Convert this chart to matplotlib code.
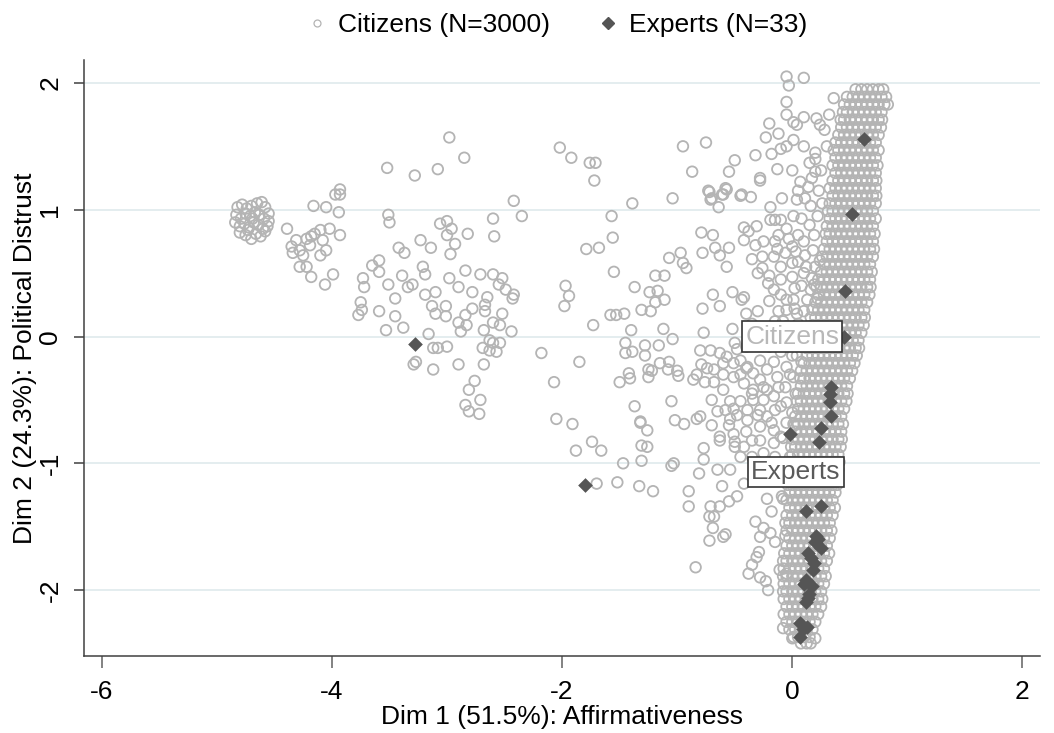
import numpy as np
import matplotlib
matplotlib.use('Agg')
import matplotlib.pyplot as plt
from matplotlib.lines import Line2D

plt.rcParams['font.family'] = ['Liberation Sans', 'DejaVu Sans']
plt.rcParams['font.size'] = 19
plt.rcParams['axes.unicode_minus'] = False

# ---------------- dados ----------------
# citizens: nuvem da esquerda (x < -3.5)
far_x = [-4.82, -4.78, -4.74, -4.70, -4.65, -4.61, -4.58, -4.55, -4.83, -4.79, -4.75, -4.71, -4.67,
         -4.63, -4.59, -4.55, -4.84, -4.80, -4.76, -4.72, -4.68, -4.64, -4.60, -4.56, -4.80, -4.75,
         -4.70, -4.66, -4.62, -4.58, -4.73, -4.69,
         -4.39, -4.16, -4.05, -3.97, -3.93, -3.94, -4.02, -3.93, -4.31, -4.35, -4.34, -4.28, -4.25,
         -4.22, -4.18, -4.15, -4.10, -4.08, -4.05, -4.10, -4.19, -4.28, -4.22, -4.18, -4.06, -3.99,
         -3.51, -3.50, -3.73, -3.72, -3.65, -3.59, -3.59, -3.75, -3.74, -3.77, -3.59, -3.52, -3.93]
far_y = [1.02, 1.04, 1.01, 1.03, 1.05, 1.06, 1.02, 0.97, 0.96, 0.93, 0.97, 0.95, 0.98,
         0.96, 0.93, 0.91, 0.90, 0.87, 0.89, 0.86, 0.90, 0.88, 0.85, 0.87, 0.82, 0.80,
         0.77, 0.81, 0.79, 0.83, 0.84, 0.93,
         0.85, 1.03, 1.02, 1.12, 1.12, 0.98, 0.85, 0.80, 0.76, 0.71, 0.66, 0.68, 0.64,
         0.77, 0.79, 0.81, 0.84, 0.76, 0.68, 0.64, 0.72, 0.55, 0.55, 0.47, 0.41, 0.49,
         0.96, 0.90, 0.46, 0.39, 0.56, 0.60, 0.51, 0.27, 0.21, 0.17, 0.20, 1.33, 1.16]

# citizens: -3.5 < x < -2
midl_x = [-3.51, -3.45, -3.45, -3.53, -3.38, -3.42, -3.37, -3.39, -3.34, -3.30, -3.23, -3.14, -3.21,
          -3.19, -3.06, -3.00, -2.96, -3.00, -2.93, -2.97, -2.82, -2.60, -2.59, -2.42, -2.35, -3.19,
          -3.10, -3.13, -3.10, -3.01, -3.01, -2.98, -2.90, -2.84, -2.78, -2.71, -2.78, -2.84, -2.90,
          -2.88, -2.83, -2.60, -2.52, -2.55, -2.49, -2.42, -2.43, -2.65, -2.67, -2.67, -2.60, -2.54,
          -2.52, -2.44, -2.68, -2.63, -2.60, -2.54, -2.69, -2.63, -2.57, -2.18, -3.16, -3.12, -3.08,
          -3.00, -3.27, -3.29, -3.12, -2.90, -2.68, -2.76, -2.81, -2.71, -2.84, -2.81, -2.72, -2.98,
          -2.85, -3.28, -3.08, -2.07, -2.05]
midl_y = [0.41, 0.30, 0.16, 0.05, 0.07, 0.70, 0.66, 0.48, 0.39, 0.41, 0.76, 0.70, 0.55,
          0.49, 0.89, 0.91, 0.85, 0.80, 0.73, 0.65, 0.81, 0.93, 0.79, 1.07, 0.95, 0.33,
          0.35, 0.24, 0.18, 0.24, 0.16, 0.46, 0.39, 0.52, 0.35, 0.49, 0.22, 0.17, 0.11,
          0.04, 0.09, 0.49, 0.46, 0.41, 0.37, 0.33, 0.30, 0.31, 0.25, 0.20, 0.11, 0.09,
          0.18, 0.04, 0.05, -0.03, -0.05, -0.05, -0.09, -0.11, -0.12, -0.13, 0.02, -0.09, -0.09,
          -0.08, -0.20, -0.22, -0.26, -0.22, -0.22, -0.35, -0.42, -0.50, -0.54, -0.59, -0.61, 1.57,
          1.41, 1.27, 1.32, -0.36, -0.65]

# citizens: -2 < x < -0.9
mid_x = [-2.02, -1.92, -1.76, -1.71, -1.72, -1.39, -1.57, -1.56, -1.79, -1.68, -1.55, -1.97, -1.94,
         -1.98, -1.73, -1.85, -1.91, -1.37, -1.19, -1.11, -1.24, -1.17, -1.19, -1.11, -1.31, -1.23,
         -1.58, -1.53, -1.46, -1.40, -1.12, -1.04, -1.16, -1.45, -1.39, -1.28, -1.50, -1.41, -1.25,
         -1.22, -1.07, -0.99, -1.05, -1.37, -1.32, -1.26, -1.02, -0.94, -0.97, -0.95, -0.92, -1.07,
         -0.95, -1.04, -1.88, -1.74, -1.66, -1.47, -1.31, -1.05, -1.03, -1.31, -1.26, -1.32, -1.42,
         -1.45, -1.28, -1.15, -1.25, -1.08, -1.00, -1.70, -1.52, -1.33, -1.21, -0.90, -0.90, -0.84]
mid_y = [1.49, 1.41, 1.37, 1.37, 1.23, 1.05, 0.95, 0.78, 0.69, 0.70, 0.51, 0.40, 0.32,
         0.24, 0.09, -0.20, -0.69, 0.39, 0.48, 0.48, 0.35, 0.36, 0.27, 0.29, 0.21, 0.20,
         0.17, 0.17, 0.18, 0.05, 0.06, -0.02, -0.07, -0.05, -0.12, -0.07, -0.36, -0.33, -0.32,
         -0.27, -0.20, -0.31, -0.51, -0.55, -0.67, -0.74, -0.66, -0.69, 0.66, 0.58, 0.54, 0.62,
         1.50, 1.09, -0.90, -0.83, -0.90, -1.00, -0.98, -1.02, -1.00, -0.86, -0.87, -0.68, -0.29,
         -0.13, -0.15, -0.21, -0.26, -0.26, -0.27, -1.16, -1.15, -1.18, -1.22, -1.22, -1.34, -1.82]

# citizens: -0.9 < x < 0.3, fora da faixa densa
near_x = [-0.75, -0.87, -0.55, -0.50, -0.32, -0.20, -0.23, -0.12, -0.05, 0.01, 0.04, 0.10, -0.05,
          -0.18, -0.10, -0.05, 0.10, 0.01, 0.21, 0.24, 0.28, -0.13, 0.00, 0.15, 0.20, 0.25,
          -0.28, -0.28, 0.07, 0.17, 0.23, -0.73, -0.71, -0.60, -0.57, -0.45, -0.36, -0.79, -0.69,
          -0.78, -0.67, -0.63, -0.55, -0.57, -0.69, -0.63, -0.52, -0.42, -0.44, -0.78, -0.77, -0.52,
          -0.42, -0.38, -0.31, -0.42, -0.32, -0.26, -0.16, -0.13, -0.06, 0.03, 0.11, 0.00, 0.05,
          -0.35, -0.26, -0.10, -0.19, -0.15, -0.10, 0.01, 0.08, -0.12, -0.03, 0.00, 0.10, 0.19,
          -0.19, -0.09, 0.04, 0.11, 0.16, -0.21, -0.16, -0.05, 0.01, -0.05, 0.04, 0.13, 0.17,
          0.19, 0.16, -0.05, 0.10, -0.03, 0.20, -0.44, -0.58, -0.61, -0.72, -0.70, -0.64,
          -0.80, -0.71, -0.79, -0.74, -0.68, -0.76, -0.68, -0.63, -0.60, -0.83, -0.86, -0.83, -0.80,
          -0.70, -0.77, -0.77, -0.63, -0.51, -0.50, -0.50, -0.70, -0.65, -0.54, -0.60, -0.54, -0.45,
          -0.51, -0.39, -0.34, -0.28, -0.39, -0.28, -0.57, -0.51, -0.45, -0.39, -0.34, -0.28, -0.51,
          -0.42, -0.34, -0.22, -0.16, -0.22, -0.13, -0.28, -0.16, -0.05, 0.01, -0.22, -0.16, -0.28,
          -0.16, -0.10, -0.05, -0.81, -0.65, -0.54, -0.61, -0.71, -0.63, -0.55, -0.48, -0.72, -0.68,
          -0.69, -0.72, -0.60, -0.58, -0.63, -0.42, -0.42, -0.31, -0.22, -0.08, -0.18, -0.09, -0.32,
          -0.25, -0.28, -0.19, -0.15, -0.06, -0.29, -0.31, -0.35, -0.38, -0.28, -0.23, -0.21, -0.11,
          -0.05, -0.35, -0.25, -0.15, -0.05, 0.05, -0.30, -0.20, -0.10, 0.00, 0.06, -0.40, -0.48,
          -0.12, -0.30, -0.40, 0.08, -0.06, 0.03, -0.10, 0.00, -0.02, -0.12, -0.20, -0.08, -0.15,
          -0.25, -0.35, 0.00, 0.20, 0.16, -0.08]
near_y = [1.53, 1.30, 1.30, 1.39, 1.43, 1.68, 1.57, 1.60, 1.75, 1.69, 1.67, 1.73, 1.85,
          1.44, 1.48, 1.50, 1.50, 1.55, 1.72, 1.67, 1.63, 1.32, 1.31, 1.37, 1.30, 1.31,
          1.25, 1.23, 1.22, 1.25, 1.15, 1.15, 1.08, 1.12, 1.16, 1.11, 1.10, 0.82, 0.80,
          0.66, 0.70, 0.64, 0.70, 0.55, 0.33, 0.24, 0.35, 0.31, 0.29, 0.22, 0.03, 0.06,
          0.86, 0.83, 0.87, 0.76, 0.72, 0.63, 0.63, 0.69, 0.66, 0.67, 0.64, 0.58, 0.59,
          0.61, 0.54, 0.55, 0.92, 0.92, 0.92, 0.95, 0.93, 0.80, 0.77, 0.71, 0.75, 0.80,
          1.02, 1.09, 1.08, 1.09, 1.03, 0.42, 0.37, 0.29, 0.29, 0.21, 0.18, 0.29, 0.46,
          0.41, 0.37, 2.05, 2.04, 1.98, 1.45, 1.12, 1.17, 1.12, 1.14, 1.09, 1.02,
          -0.11, -0.11, -0.22, -0.25, -0.26, -0.36, -0.36, -0.13, -0.21, -0.30, -0.34, -0.65, -0.63,
          -0.70, -0.88, -0.97, -0.82, -0.77, -0.83, -0.87, -0.50, -0.59, -0.65, -0.42, -0.51, -0.51,
          -0.57, -0.58, -0.50, -0.58, -0.66, -0.71, -0.16, -0.21, -0.19, -0.24, -0.29, -0.34, -0.32,
          -0.37, -0.42, -0.42, -0.47, -0.26, -0.32, -0.19, -0.20, -0.24, -0.32, -0.63, -0.74, -0.82,
          -0.84, -0.79, -0.68, -1.08, -1.05, -1.05, -1.18, -1.34, -1.34, -1.30, -1.26, -1.42, -1.42,
          -1.51, -1.61, -1.58, -1.56, -0.79, -0.87, -1.16, -1.13, -1.28, -1.28, -1.38, -1.26, -1.46,
          -1.51, -1.58, -1.55, -1.62, -1.57, -1.70, -1.74, -1.80, -1.87, -1.90, -1.93, -2.00, -1.84,
          -1.87, 0.10, 0.05, 0.12, 0.08, 0.10, -0.05, -0.08, -0.12, -0.15, -0.05, -0.08, -0.10,
          0.20, 0.20, 0.18, -0.20, -0.40, -0.45, -0.55, -0.60, -0.95, -1.00, -1.05, -1.12, -0.95,
          -0.92, -0.95, -2.38, -2.38, -2.42, -2.30]

# citizens: zona densa logo a esquerda da faixa
edge_x = [-0.30, -0.20, -0.10, 0.00, 0.10, 0.20, -0.25, -0.05, 0.15, 0.22, 0.05, 0.18, 0.12,
          -0.15, 0.24, 0.02, -0.10, 0.08, 0.22, 0.10, -0.08, 0.02, -0.20, 0.14, 0.26, 0.05,
          0.20, 0.30, 0.32, 0.36, -0.45, -0.35, -0.25, -0.15, -0.05, 0.02, -0.08, -0.18, -0.30,
          -0.40, -0.55, -0.45, -0.35, -0.25, -0.12, -0.02, 0.04, -0.60, -0.50, -0.40, -0.58, -0.48]
edge_y = [0.50, 0.48, 0.45, 0.47, 0.50, 0.55, 0.75, 0.85, 0.88, 0.95, 0.80, 0.68, 0.55,
          0.75, 0.60, 0.38, 0.33, 0.40, 0.30, 0.20, 0.12, 0.22, 0.28, 1.18, 1.05, 1.15,
          1.40, 1.50, 1.75, 1.88, -0.30, -0.45, -0.50, -0.58, -0.52, -0.70, -0.80, -0.68, -0.62,
          -0.75, -0.70, -0.95, -0.82, -0.40, -0.40, -0.30, -0.15, -0.30, -0.05, -0.25, -0.58, -0.62]

# citizens: faixa densa, lida linha a linha
band_y = [1.95, 1.89, 1.83, 1.77, 1.71, 1.65, 1.59, 1.53, 1.47, 1.41, 1.35, 1.29, 1.23, 1.17,
          1.11, 1.05, 0.99, 0.93, 0.87, 0.81, 0.75, 0.69, 0.63, 0.57, 0.51, 0.45, 0.39, 0.33,
          0.27, 0.21, 0.15, 0.09, 0.03, -0.03, -0.09, -0.15, -0.21, -0.27, -0.33, -0.39, -0.45,
          -0.51, -0.57, -0.63, -0.69, -0.75, -0.81, -0.87, -0.93, -0.99, -1.05, -1.11, -1.17,
          -1.23, -1.29, -1.35, -1.41, -1.47, -1.53, -1.59, -1.65, -1.71, -1.77, -1.83, -1.89,
          -1.95, -2.01, -2.07, -2.13, -2.19, -2.25, -2.31, -2.37, -2.42]
band_x = [
    [0.55, 0.60, 0.65, 0.70, 0.75, 0.79],
    [0.475, 0.525, 0.575, 0.625, 0.675, 0.725, 0.775, 0.815],
    [0.45, 0.50, 0.55, 0.60, 0.65, 0.70, 0.75, 0.80, 0.83],
    [0.44, 0.475, 0.525, 0.575, 0.625, 0.675, 0.725, 0.775],
    [0.42, 0.45, 0.50, 0.55, 0.60, 0.65, 0.70, 0.75, 0.78],
    [0.425, 0.475, 0.525, 0.575, 0.625, 0.675, 0.725, 0.77],
    [0.40, 0.45, 0.50, 0.55, 0.60, 0.65, 0.70, 0.75],
    [0.375, 0.425, 0.475, 0.525, 0.575, 0.625, 0.675, 0.725],
    [0.36, 0.40, 0.45, 0.50, 0.55, 0.60, 0.65, 0.70, 0.75],
    [0.375, 0.425, 0.475, 0.525, 0.575, 0.625, 0.675, 0.725],
    [0.35, 0.40, 0.45, 0.50, 0.55, 0.60, 0.65, 0.70, 0.74],
    [0.375, 0.425, 0.475, 0.525, 0.575, 0.625, 0.675, 0.725],
    [0.35, 0.40, 0.45, 0.50, 0.55, 0.60, 0.65, 0.70, 0.73],
    [0.325, 0.375, 0.425, 0.475, 0.525, 0.575, 0.625, 0.675, 0.725],
    [0.35, 0.40, 0.45, 0.50, 0.55, 0.60, 0.65, 0.70, 0.73],
    [0.325, 0.375, 0.425, 0.475, 0.525, 0.575, 0.625, 0.675, 0.725],
    [0.31, 0.35, 0.40, 0.45, 0.50, 0.55, 0.60, 0.65, 0.70],
    [0.325, 0.375, 0.425, 0.475, 0.525, 0.575, 0.625, 0.675, 0.725],
    [0.30, 0.35, 0.40, 0.45, 0.50, 0.55, 0.60, 0.65, 0.70],
    [0.29, 0.325, 0.375, 0.425, 0.475, 0.525, 0.575, 0.625, 0.675, 0.715],
    [0.30, 0.35, 0.40, 0.45, 0.50, 0.55, 0.60, 0.65, 0.70],
    [0.275, 0.325, 0.375, 0.425, 0.475, 0.525, 0.575, 0.625, 0.675, 0.71],
    [0.26, 0.30, 0.35, 0.40, 0.45, 0.50, 0.55, 0.60, 0.65, 0.70],
    [0.275, 0.325, 0.375, 0.425, 0.475, 0.525, 0.575, 0.625, 0.675],
    [0.25, 0.30, 0.35, 0.40, 0.45, 0.50, 0.55, 0.60, 0.65, 0.69],
    [0.225, 0.275, 0.325, 0.375, 0.425, 0.475, 0.525, 0.575, 0.625, 0.675],
    [0.21, 0.25, 0.30, 0.35, 0.40, 0.45, 0.50, 0.55, 0.60, 0.65, 0.68],
    [0.225, 0.275, 0.325, 0.375, 0.425, 0.475, 0.525, 0.575, 0.625, 0.67],
    [0.20, 0.25, 0.30, 0.35, 0.40, 0.45, 0.50, 0.55, 0.60, 0.65],
    [0.175, 0.225, 0.275, 0.325, 0.375, 0.425, 0.475, 0.525, 0.575, 0.625],
    [0.16, 0.20, 0.25, 0.30, 0.35, 0.40, 0.45, 0.50, 0.55, 0.60, 0.63],
    [0.175, 0.225, 0.275, 0.325, 0.375, 0.425, 0.475, 0.525, 0.575, 0.62],
    [0.15, 0.20, 0.25, 0.30, 0.35, 0.40, 0.45, 0.50, 0.55, 0.60],
    [0.125, 0.175, 0.225, 0.275, 0.325, 0.375, 0.425, 0.475, 0.525, 0.575],
    [0.12, 0.15, 0.20, 0.25, 0.30, 0.35, 0.40, 0.45, 0.50, 0.55, 0.58],
    [0.125, 0.175, 0.225, 0.275, 0.325, 0.375, 0.425, 0.475, 0.525, 0.56],
    [0.10, 0.15, 0.20, 0.25, 0.30, 0.35, 0.40, 0.45, 0.50, 0.54],
    [0.075, 0.125, 0.175, 0.225, 0.275, 0.325, 0.375, 0.425, 0.475, 0.52],
    [0.07, 0.10, 0.15, 0.20, 0.25, 0.30, 0.35, 0.40, 0.45, 0.50],
    [0.075, 0.125, 0.175, 0.225, 0.275, 0.325, 0.375, 0.425, 0.475],
    [0.05, 0.10, 0.15, 0.20, 0.25, 0.30, 0.35, 0.40, 0.45, 0.48],
    [0.04, 0.075, 0.125, 0.175, 0.225, 0.275, 0.325, 0.375, 0.425, 0.47],
    [0.05, 0.10, 0.15, 0.20, 0.25, 0.30, 0.35, 0.40, 0.45],
    [0.025, 0.075, 0.125, 0.175, 0.225, 0.275, 0.325, 0.375, 0.425],
    [0.01, 0.05, 0.10, 0.15, 0.20, 0.25, 0.30, 0.35, 0.40, 0.44],
    [0.025, 0.075, 0.125, 0.175, 0.225, 0.275, 0.325, 0.375, 0.425],
    [0.00, 0.05, 0.10, 0.15, 0.20, 0.25, 0.30, 0.35, 0.40, 0.43],
    [-0.01, 0.025, 0.075, 0.125, 0.175, 0.225, 0.275, 0.325, 0.375, 0.42],
    [0.00, 0.05, 0.10, 0.15, 0.20, 0.25, 0.30, 0.35, 0.40],
    [-0.025, 0.025, 0.075, 0.125, 0.175, 0.225, 0.275, 0.325, 0.375, 0.41],
    [0.00, 0.05, 0.10, 0.15, 0.20, 0.25, 0.30, 0.35, 0.40],
    [-0.025, 0.025, 0.075, 0.125, 0.175, 0.225, 0.275, 0.325, 0.375],
    [-0.04, 0.00, 0.05, 0.10, 0.15, 0.20, 0.25, 0.30, 0.35, 0.39],
    [-0.025, 0.025, 0.075, 0.125, 0.175, 0.225, 0.275, 0.325, 0.375],
    [-0.05, 0.00, 0.05, 0.10, 0.15, 0.20, 0.25, 0.30, 0.35],
    [-0.025, 0.025, 0.075, 0.125, 0.175, 0.225, 0.275, 0.325, 0.37],
    [-0.05, 0.00, 0.05, 0.10, 0.15, 0.20, 0.25, 0.30, 0.35],
    [-0.06, -0.025, 0.025, 0.075, 0.125, 0.175, 0.225, 0.275, 0.325],
    [-0.05, 0.00, 0.05, 0.10, 0.15, 0.20, 0.25, 0.30, 0.34],
    [-0.025, 0.025, 0.075, 0.125, 0.175, 0.225, 0.275, 0.325],
    [-0.05, 0.00, 0.05, 0.10, 0.15, 0.20, 0.25, 0.30],
    [-0.07, -0.025, 0.025, 0.075, 0.125, 0.175, 0.225, 0.275, 0.32],
    [-0.08, -0.05, 0.00, 0.05, 0.10, 0.15, 0.20, 0.25, 0.30],
    [-0.075, -0.025, 0.025, 0.075, 0.125, 0.175, 0.225, 0.275],
    [-0.08, -0.05, 0.00, 0.05, 0.10, 0.15, 0.20, 0.25, 0.29],
    [-0.075, -0.025, 0.025, 0.075, 0.125, 0.175, 0.225, 0.275],
    [-0.08, -0.05, 0.00, 0.05, 0.10, 0.15, 0.20, 0.25],
    [-0.075, -0.025, 0.025, 0.075, 0.125, 0.175, 0.225, 0.26],
    [-0.05, 0.00, 0.05, 0.10, 0.15, 0.20, 0.25],
    [-0.075, -0.025, 0.025, 0.075, 0.125, 0.175, 0.225],
    [-0.05, 0.00, 0.05, 0.10, 0.15, 0.20],
    [-0.025, 0.025, 0.075, 0.125, 0.175],
    [0.01, 0.05, 0.10, 0.15],
    [0.075, 0.125],
]

# experts
exp_x = [0.62, 0.52, 0.455, 0.45, 0.34, 0.33, 0.34, 0.25, -0.02, 0.23, -1.80, 0.25, 0.12, 0.21,
         0.25, 0.135, 0.19, 0.12, 0.17, 0.145, 0.12, 0.07, 0.13, 0.07, -3.28, 0.22, 0.18, 0.16,
         0.10, 0.20, 0.09, 0.14, 0.33]
exp_y = [1.56, 0.97, 0.36, 0.00, -0.40, -0.52, -0.63, -0.72, -0.77, -0.83, -1.17, -1.34, -1.38,
         -1.57, -1.67, -1.71, -1.79, -1.92, -1.97, -2.03, -2.09, -2.26, -2.29, -2.37, -0.06, -1.60,
         -1.84, -1.75, -1.95, -1.62, -2.31, -2.06, -0.45]

# posicao dos rotulos dos grupos
lab_citizens = (0.0, 0.0)
lab_experts = (0.03, -1.07)

# juntando os pontos dos citizens
bx = [x for row in band_x for x in row]
by = [y for y, row in zip(band_y, band_x) for _ in row]
cit_x = np.array(far_x + midl_x + mid_x + near_x + edge_x + bx)
cit_y = np.array(far_y + midl_y + mid_y + near_y + edge_y + by)

# ---------------- figura ----------------
fig = plt.figure(figsize=(10.54, 7.33), dpi=100)
ax = fig.add_axes([0.0797, 0.105, 0.907, 0.813])

cinza_claro = '#b4b4b4'
cinza_esc = '#555555'

ax.scatter(cit_x, cit_y, s=58, facecolors='none', edgecolors=cinza_claro, linewidths=1.3, zorder=2)
ax.scatter(exp_x, exp_y, s=56, marker='D', color=cinza_esc, linewidths=0, zorder=3)

# rotulos com caixa
ax.text(*lab_citizens, 'Citizens', color='#b8b8b8', ha='center', va='center', fontsize=19, zorder=5,
        bbox=dict(boxstyle='square,pad=0.12', facecolor='white', edgecolor='#333333', linewidth=1.2))
ax.text(*lab_experts, 'Experts', color='#5a5a5a', ha='center', va='center', fontsize=19, zorder=5,
        bbox=dict(boxstyle='square,pad=0.12', facecolor='white', edgecolor='#333333', linewidth=1.2))

ax.set_xlim(-6.154, 2.152)
ax.set_ylim(-2.52, 2.18)
ax.set_xticks([-6, -4, -2, 0, 2])
ax.set_yticks([-2, -1, 0, 1, 2])

ax.grid(axis='y', color='#e2ecee', linewidth=1.3, zorder=0)
ax.set_axisbelow(True)

for s in ['top', 'right']:
    ax.spines[s].set_visible(False)
for s in ['left', 'bottom']:
    ax.spines[s].set_color('#404040')
    ax.spines[s].set_linewidth(1.1)

ax.tick_params(axis='x', length=8.5, width=1.1, color='#606060', pad=9, labelsize=19)
ax.tick_params(axis='y', length=7.5, width=1.1, color='#404040', pad=8, labelsize=19, labelrotation=90)
for lbl in ax.get_yticklabels():
    lbl.set_va('center')

ax.set_xlabel('Dim 1 (51.5%): Affirmativeness', fontsize=19, va='center')
ax.xaxis.set_label_coords(0.5, -0.102)
ax.set_ylabel('Dim 2 (24.3%): Political Distrust', fontsize=19, va='center')
ax.yaxis.set_label_coords(-0.062, 0.5)

# legenda no topo
h_cit = Line2D([], [], linestyle='none', marker='o', markersize=5, markerfacecolor='none',
               markeredgecolor=cinza_claro, markeredgewidth=0.9)
h_exp = Line2D([], [], linestyle='none', marker='D', markersize=6, color=cinza_esc)
fig.legend([h_cit, h_exp], ['Citizens (N=3000)', 'Experts (N=33)'], loc='center',
           bbox_to_anchor=(0.528, 0.966), ncol=2, frameon=False, fontsize=19,
           handlelength=0.8, handletextpad=0.4, columnspacing=1.8)

fig.savefig('out.png', dpi=100)
